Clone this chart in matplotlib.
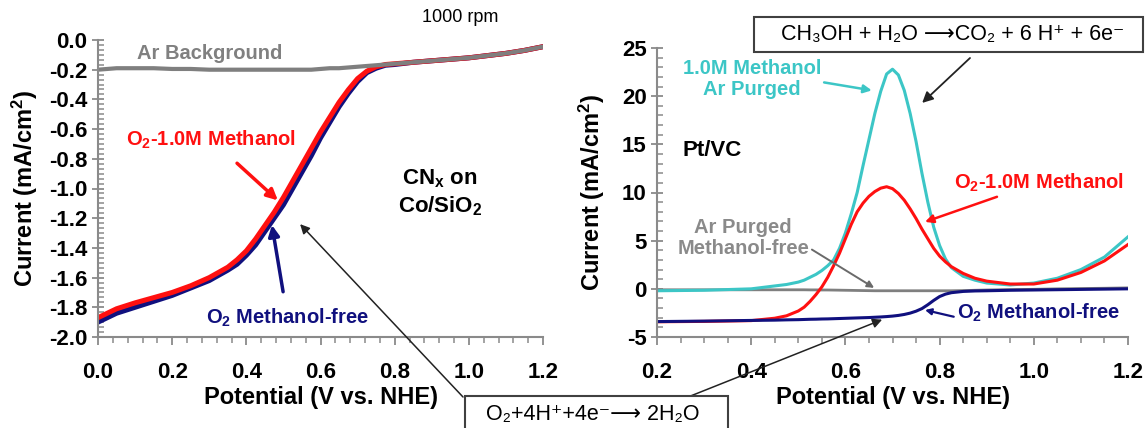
import matplotlib
matplotlib.use("Agg")
import matplotlib.pyplot as plt
from matplotlib.ticker import MultipleLocator, FormatStrFormatter
from matplotlib.patches import Rectangle

# CNx on Co/SiO2 : ORR polarisation at 1000 rpm
cnx_potential = [0.0, 0.05, 0.1, 0.15, 0.2, 0.25, 0.3, 0.35, 0.375, 0.4, 0.425, 0.45, 0.475,
	0.5, 0.525, 0.55, 0.575, 0.6, 0.625, 0.65, 0.675, 0.7, 0.725, 0.75, 0.775, 0.8, 0.85,
	0.9, 1.0, 1.1, 1.15, 1.2]
cnx_o2_methanol = [-1.87, -1.81, -1.77, -1.735, -1.70, -1.655, -1.60, -1.53, -1.48, -1.42, -1.34,
	-1.25, -1.16, -1.06, -0.95, -0.84, -0.73, -0.62, -0.52, -0.42, -0.335, -0.26, -0.21, -0.18,
	-0.165, -0.16, -0.15, -0.14, -0.12, -0.09, -0.07, -0.045]
cnx_o2_free = [-1.90, -1.84, -1.80, -1.76, -1.72, -1.67, -1.62, -1.55, -1.51, -1.45, -1.38,
	-1.29, -1.20, -1.11, -1.00, -0.89, -0.78, -0.66, -0.555, -0.45, -0.36, -0.28, -0.22, -0.19,
	-0.17, -0.165, -0.15, -0.14, -0.12, -0.09, -0.07, -0.045]
cnx_ar_background = [-0.20, -0.19, -0.19, -0.19, -0.195, -0.195, -0.20, -0.20, -0.20, -0.20, -0.20,
	-0.20, -0.20, -0.20, -0.20, -0.20, -0.20, -0.195, -0.19, -0.19, -0.185, -0.18, -0.175, -0.17,
	-0.165, -0.16, -0.15, -0.14, -0.12, -0.09, -0.07, -0.045]

# Pt/VC
pt_potential = [0.2, 0.3, 0.4, 0.45, 0.475, 0.5, 0.5125, 0.525, 0.5375, 0.55, 0.5625, 0.575,
	0.5875, 0.6, 0.6125, 0.625, 0.6375, 0.65, 0.6625, 0.675, 0.6875, 0.7, 0.7125, 0.725,
	0.7375, 0.75, 0.7625, 0.775, 0.7875, 0.8, 0.8125, 0.825, 0.85, 0.875, 0.9, 0.95, 1.0,
	1.05, 1.1, 1.15, 1.2]
pt_ar_methanol = [-0.2, -0.15, 0.0, 0.3, 0.45, 0.7, 0.9, 1.2, 1.5, 1.9, 2.4, 3.0,
	4.2, 5.8, 7.8, 10.0, 12.8, 15.5, 18.2, 20.5, 22.3, 22.8, 22.2, 20.6,
	18.2, 15.3, 12.0, 9.0, 6.4, 4.5, 3.1, 2.2, 1.3, 0.9, 0.6, 0.4, 0.6,
	1.1, 2.0, 3.3, 5.4]
pt_o2_methanol = [-3.42, -3.38, -3.3, -3.05, -2.8, -2.3, -1.9, -1.3, -0.6, 0.2, 1.2, 2.4,
	3.7, 5.2, 6.7, 8.0, 8.9, 9.6, 10.1, 10.45, 10.6, 10.4, 9.9, 9.2,
	8.3, 7.3, 6.2, 5.2, 4.2, 3.4, 2.8, 2.3, 1.6, 1.1, 0.8, 0.5, 0.5,
	0.9, 1.7, 2.9, 4.6]
pt_ar_free = [-0.1, -0.1, -0.1, -0.1, -0.1, -0.1, -0.1, -0.11, -0.11, -0.12, -0.12, -0.13,
	-0.14, -0.15, -0.16, -0.17, -0.18, -0.19, -0.2, -0.2, -0.2, -0.2, -0.2, -0.2,
	-0.2, -0.2, -0.2, -0.2, -0.2, -0.2, -0.2, -0.2, -0.18, -0.15, -0.12, -0.08, -0.05,
	0.0, 0.03, 0.06, 0.1]
pt_o2_free = [-3.4, -3.35, -3.28, -3.25, -3.22, -3.2, -3.18, -3.16, -3.15, -3.13, -3.12, -3.1,
	-3.08, -3.06, -3.04, -3.02, -3.0, -2.98, -2.95, -2.92, -2.88, -2.83, -2.76, -2.66,
	-2.52, -2.32, -2.05, -1.65, -1.2, -0.8, -0.55, -0.4, -0.27, -0.22, -0.2, -0.15, -0.12,
	-0.09, -0.06, -0.03, 0.0]

cnx_yticks = [-2.0, -1.8, -1.6, -1.4, -1.2, -1.0, -0.8, -0.6, -0.4, -0.2, 0.0]
pt_yticks = [-5, 0, 5, 10, 15, 20, 25]
x_ticks_cnx = [0.0, 0.2, 0.4, 0.6, 0.8, 1.0, 1.2]
x_ticks_pt = [0.2, 0.4, 0.6, 0.8, 1.0, 1.2]

RED = '#FF1010'
NAVY = '#10107E'
CYAN = '#3CC6C6'
GREY = '#7F7F7F'
W, H = 1145, 428


def px(x, y):
	# figure pixel (from top-left) -> figure fraction
	return x / W, 1 - y / H


def style_axes(ax, xminor, yminor):
	for side in ['top', 'right']:
		ax.spines[side].set_visible(False)
	for side in ['left', 'bottom']:
		ax.spines[side].set_color('#8a8a8a')
		ax.spines[side].set_linewidth(1.5)
	ax.xaxis.set_minor_locator(MultipleLocator(xminor))
	ax.yaxis.set_minor_locator(MultipleLocator(yminor))
	ax.tick_params(axis='y', which='major', direction='inout', length=9, width=1.3,
		color='#8a8a8a', labelsize=16, pad=3)
	ax.tick_params(axis='y', which='minor', direction='in', length=4, width=1.1, color='#8a8a8a')
	ax.tick_params(axis='x', which='major', direction='out', length=6, width=1.3,
		color='#8a8a8a', labelsize=16, pad=12)
	ax.tick_params(axis='x', which='minor', direction='out', length=4, width=1.1, color='#8a8a8a')
	ax.xaxis.set_major_formatter(FormatStrFormatter('%.1f'))
	ax.set_facecolor('none')


def main():
	plt.rcParams['font.family'] = ['Liberation Sans', 'DejaVu Sans']
	plt.rcParams['font.weight'] = 'bold'
	plt.rcParams['mathtext.default'] = 'regular'
	plt.rcParams['axes.unicode_minus'] = False

	fig = plt.figure(figsize=(W / 100, H / 100), dpi=100)

	# ---- left panel : CNx on Co/SiO2
	ax1 = fig.add_axes([98 / W, 1 - 337 / H, 445 / W, 297 / H])
	ax1.plot(cnx_potential, cnx_o2_free, color=NAVY, lw=3.6)
	ax1.plot(cnx_potential, cnx_o2_methanol, color=RED, lw=3.6)
	ax1.plot(cnx_potential, cnx_ar_background, color=GREY, lw=3)
	ax1.set_xlim(0.0, 1.2)
	ax1.set_ylim(-2.0, 0.0)
	ax1.set_xticks(x_ticks_cnx)
	ax1.set_yticks(cnx_yticks)
	ax1.yaxis.set_major_formatter(FormatStrFormatter('%.1f'))
	style_axes(ax1, 0.04, 0.2 / 6)
	ax1.set_xlabel('Potential (V vs. NHE)', fontsize=17, fontweight='bold')
	ax1.xaxis.set_label_coords(0.5, -0.165)
	ax1.set_ylabel('Current (mA/cm$^2$)', fontsize=17, fontweight='bold')
	ax1.yaxis.set_label_coords(-0.13, 0.5)

	ax1.text(0.301, -0.088, 'Ar Background', color='#808080', fontsize=14.5, ha='center', va='center')
	ax1.annotate('O$_2$-1.0M Methanol', xy=(0.485, -1.08), xytext=(0.306, -0.673),
		color=RED, fontsize=14.5, ha='center', va='center',
		arrowprops=dict(arrowstyle='-|>', color=RED, lw=2.5, mutation_scale=16,
			shrinkA=10, shrinkB=0))
	ax1.annotate('O$_2$ Methanol-free', xy=(0.469, -1.246), xytext=(0.511, -1.872),
		color=NAVY, fontsize=14.5, ha='center', va='center',
		arrowprops=dict(arrowstyle='-|>', color=NAVY, lw=2.5, mutation_scale=16,
			shrinkA=9, shrinkB=0))
	ax1.text(0.922, -1.03, 'CN$_x$ on\nCo/SiO$_2$', color='black', fontsize=16,
		ha='center', va='center', linespacing=1.25)

	# ---- right panel : Pt/VC
	ax2 = fig.add_axes([657 / W, 1 - 337 / H, 471 / W, 289 / H])
	ax2.plot(pt_potential, pt_ar_free, color=GREY, lw=2)
	ax2.plot(pt_potential, pt_ar_methanol, color=CYAN, lw=2.2)
	ax2.plot(pt_potential, pt_o2_methanol, color=RED, lw=2.2)
	ax2.plot(pt_potential, pt_o2_free, color=NAVY, lw=2.2)
	ax2.set_xlim(0.2, 1.2)
	ax2.set_ylim(-5, 25)
	ax2.set_xticks(x_ticks_pt)
	ax2.set_yticks(pt_yticks)
	style_axes(ax2, 0.05, 1)
	ax2.set_xlabel('Potential (V vs. NHE)', fontsize=17, fontweight='bold')
	ax2.xaxis.set_label_coords(0.5, -0.17)
	ax2.set_ylabel('Current (mA/cm$^2$)', fontsize=17, fontweight='bold')
	ax2.yaxis.set_label_coords(-0.107, 0.5)

	ax2.annotate('1.0M Methanol\nAr Purged', xy=(0.656, 20.6), xytext=(0.402, 21.8),
		color=CYAN, fontsize=14.5, ha='center', va='center', linespacing=1.1,
		arrowprops=dict(arrowstyle='-|>', color=CYAN, lw=1.8, mutation_scale=12,
			shrinkA=0, shrinkB=0, relpos=(0.95, 0.45)))
	ax2.text(0.317, 14.4, 'Pt/VC', color='black', fontsize=16, ha='center', va='center')
	ax2.annotate('O$_2$-1.0M Methanol', xy=(0.769, 6.95), xytext=(1.011, 11.0),
		color=RED, fontsize=14.5, ha='center', va='center',
		arrowprops=dict(arrowstyle='-|>', color=RED, lw=1.8, mutation_scale=12,
			shrinkA=0, shrinkB=0, relpos=(0.3, 0.0)))
	ax2.annotate('Ar Purged\nMethanol-free', xy=(0.661, 0.1), xytext=(0.383, 5.3),
		color='#8a8a8a', fontsize=14.5, ha='center', va='center', linespacing=1.1,
		arrowprops=dict(arrowstyle='-|>', color='#6a6a6a', lw=1.4, mutation_scale=10,
			shrinkA=0, shrinkB=0, relpos=(0.9, 0.45)))
	ax2.annotate('O$_2$ Methanol-free', xy=(0.769, -2.2), xytext=(1.009, -2.5),
		color=NAVY, fontsize=14.5, ha='center', va='center',
		arrowprops=dict(arrowstyle='-|>', color=NAVY, lw=1.6, mutation_scale=9,
			shrinkA=0, shrinkB=0, relpos=(0.0, 0.3)))

	# reaction boxes
	fig.text(*px(460, 18), '1000 rpm', fontsize=13, fontweight='normal', ha='center', va='center')

	fig.patches.append(Rectangle(px(754, 52), 389 / W, 35 / H, transform=fig.transFigure,
		fill=True, fc='white', ec='#404040', lw=1.5))
	fig.text(*px(953, 34), 'CH\u2083OH + H\u2082O \u27f6CO\u2082 + 6 H\u207a + 6e\u207b',
		fontsize=15.5, fontweight='normal', ha='center', va='center')
	ax2.annotate('', xy=(0.763, 19.3), xytext=(970, H - 58), textcoords='figure pixels',
		arrowprops=dict(arrowstyle='-|>', color='#222222', lw=1.3, mutation_scale=16,
			shrinkA=0, shrinkB=0), annotation_clip=False)

	fig.patches.append(Rectangle(px(465, 440), 263 / W, 44 / H, transform=fig.transFigure,
		fill=True, fc='white', ec='#404040', lw=1.5, zorder=5))
	fig.text(*px(593, 414), 'O\u2082+4H\u207a+4e\u207b\u27f6 2H\u2082O',
		fontsize=15.5, fontweight='normal', ha='center', va='center', zorder=6)
	ax1.annotate('', xy=(0.545, -1.24), xytext=(463, H - 397), textcoords='figure pixels',
		arrowprops=dict(arrowstyle='-|>', color='#222222', lw=1.1, mutation_scale=14,
			shrinkA=0, shrinkB=0), annotation_clip=False)
	ax2.annotate('', xy=(0.678, -3.2), xytext=(688, H - 397), textcoords='figure pixels',
		arrowprops=dict(arrowstyle='-|>', color='#222222', lw=1.1, mutation_scale=14,
			shrinkA=0, shrinkB=0), annotation_clip=False)

	fig.savefig('out.png', dpi=100, facecolor='white')


if __name__ == '__main__':
	main()
